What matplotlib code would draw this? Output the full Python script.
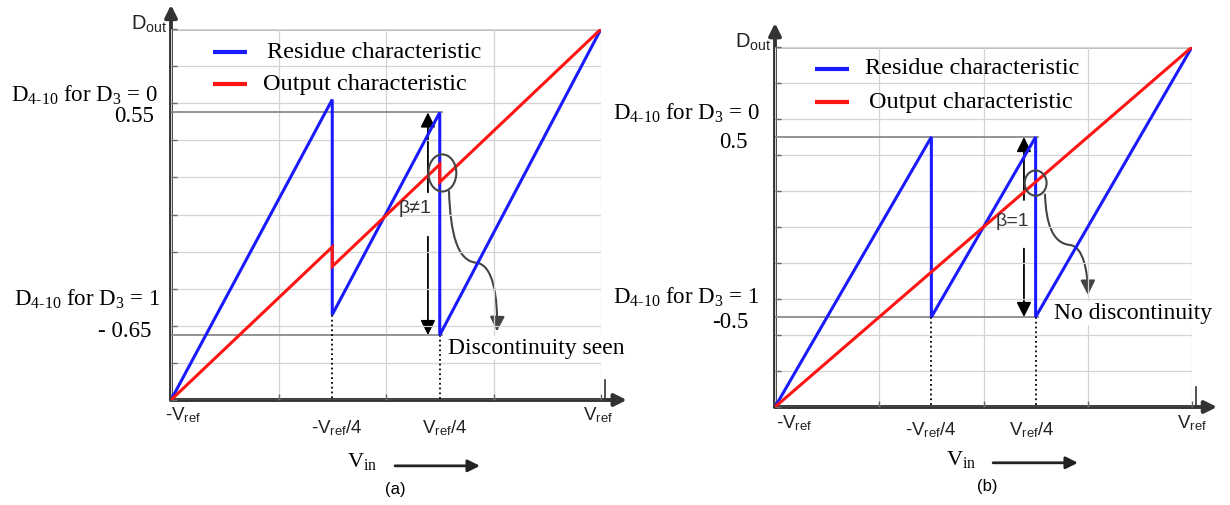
import numpy as np
import matplotlib
matplotlib.use("Agg")
import matplotlib.pyplot as plt
from matplotlib.patches import Ellipse, FancyArrowPatch
from matplotlib.path import Path

plt.rcParams["mathtext.fontset"] = "custom"
plt.rcParams["mathtext.rm"] = "Liberation Serif"
plt.rcParams["mathtext.it"] = "Liberation Serif:italic"
plt.rcParams["mathtext.bf"] = "Liberation Serif:bold"

# ---- data ---------------------------------------------------------------
vin = [-1.0, -0.25, -0.25, 0.25, 0.25, 1.0]           # -Vref .. Vref
residue_a = [-1.0, 0.62, -0.54, 0.55, -0.65, 1.0]      # beta != 1
output_a = [-1.0, -0.175, -0.28, 0.27, 0.175, 1.0]
residue_b = [-1.0, 0.5, -0.5, 0.5, -0.5, 1.0]          # beta = 1
output_b = [-1.0, -0.25, -0.25, 0.25, 0.25, 1.0]
levels_a = [0.55, -0.65]
levels_b = [0.5, -0.5]
level_labels_a = ["0.55", "- 0.65"]
level_labels_b = ["0.5", "-0.5"]
code_labels = [r"D$_{\text{4-10}}$ for D$_{\text{3}}$ = 0",
               r"D$_{\text{4-10}}$ for D$_{\text{3}}$ = 1"]
xtick_labels = [r"-V$_{\mathregular{ref}}$", r"-V$_{\mathregular{ref}}$/4",
                r"V$_{\mathregular{ref}}$/4", r"V$_{\mathregular{ref}}$"]
legend_labels = ["Residue characteristic", "Output characteristic"]

BLUE = "#1a1aff"
RED = "#ff1414"
AXC = "#333333"
SERIF = "Liberation Serif"
SANS = "Liberation Sans"

fig = plt.figure(figsize=(12.3, 5.05), dpi=100)


def px_axes(l, t, r, b):
    return fig.add_axes([l / 1230, 1 - b / 505, (r - l) / 1230, (b - t) / 505])


def arrow(ax, p0, p1, lw=1.3, ms=14, color="black", style="-|>", path=None):
    if path is not None:
        a = FancyArrowPatch(path=path, arrowstyle=style, mutation_scale=ms,
                            lw=lw, color=color)
    else:
        a = FancyArrowPatch(p0, p1, arrowstyle=style, mutation_scale=ms,
                            lw=lw, color=color, shrinkA=0, shrinkB=0)
    a.set_clip_on(False)
    ax.add_patch(a)


def panel(ax, residue, output, levels, level_labels, L):
    ax.set_xlim(-1, 1)
    ax.set_ylim(-1, 1)
    for s in ax.spines.values():
        s.set_visible(False)
    ax.set_xticks([-1, -0.5, 0, 0.5, 1])
    ax.set_yticks(np.linspace(-1, 1, 11))
    ax.grid(True, color="#d4d4d4", lw=0.9)
    ax.tick_params(labelbottom=False, labelleft=False, direction="in",
                   length=4, width=1, color="#666666")
    ax.axhline(1, color="#a8a8a8", lw=1.8, zorder=1)

    # reference levels and dotted drops
    for lv in levels:
        ax.plot([-1, 0.26], [lv, lv], color="#8a8a8a", lw=1.3, zorder=2)
    ax.plot([vin[1], vin[1]], [residue[2], -1], ls=":", color="black", lw=1.3, zorder=2)
    ax.plot([vin[3], vin[3]], [residue[4], -1], ls=":", color="black", lw=1.3, zorder=2)

    # characteristics
    ax.plot(vin, residue, color=BLUE, lw=2.2, zorder=4, solid_joinstyle="miter")
    ax.plot(vin, output, color=RED, lw=2.2, zorder=5, solid_joinstyle="miter")

    # axes with arrows
    arrow(ax, (-1, -1), (-1, L["ytop"]), lw=2.8, ms=18, color=AXC)
    arrow(ax, (-1, -1), (L["xend"], -1), lw=2.8, ms=18, color=AXC)
    ax.plot([1.02, 1.02], [-1, -0.89], color=AXC, lw=1.2, clip_on=False)

    # legend
    for (c, ly, tx), lab in zip(L["legend"], legend_labels):
        ax.plot([L["legx"][0], L["legx"][1]], [ly, ly], color=c, lw=3,
                solid_capstyle="butt", zorder=6)
        ax.text(tx, ly, lab, family=SERIF, fontsize=17.5, va="center", ha="left")

    # beta annotation
    ax_x = L["barx"]
    arrow(ax, (ax_x, L["up_from"]), (ax_x, levels[0]), lw=1.3, ms=22)
    arrow(ax, (ax_x, L["down_from"]), (ax_x, levels[1]), lw=1.3, ms=22)
    ax.text(L["beta"][0], L["beta"][1], L["beta_txt"], family=SANS,
            fontsize=14, ha="center", va="center", color="#333333", zorder=7)

    ax.add_patch(Ellipse(L["ell"][:2], L["ell"][2], L["ell"][3], fill=False,
                         ec="#444444", lw=1.5, zorder=7))
    arrow(ax, None, None, lw=1.5, ms=22, color="#444444",
          path=Path(L["curve"], [Path.MOVETO] + [Path.CURVE4] * 6))
    ax.text(L["note"][0], L["note"][1], L["note_txt"], family=SERIF,
            fontsize=17, ha="left", va="center", zorder=8,
            bbox=dict(fc="white", ec="none", pad=1))

    # y-side labels
    for (x, y), t in zip(L["code_pos"], code_labels):
        ax.text(x, y, t, family=SERIF, fontsize=16.5, ha="right", va="center")
    for (x, y), t in zip(L["lvl_pos"], level_labels):
        ax.text(x, y, t, family=SERIF, fontsize=16.5, ha="right", va="center")
    ax.text(L["dout"][0], L["dout"][1], r"D$_{\mathregular{out}}$", family=SANS,
            fontsize=14.5, ha="center", va="center", color="#222222")

    # x-side labels
    for (x, y, ha), t in zip(L["xt_pos"], xtick_labels):
        ax.text(x, y, t, family=SANS, fontsize=13.5, ha=ha, va="center",
                color="#222222")
    ax.text(L["vin"][0], L["vin"][1], r"V$_{\text{in}}$", family=SERIF,
            fontsize=16, ha="left", va="center")
    arrow(ax, (L["vin_arrow"][0], L["vin_arrow"][2]),
          (L["vin_arrow"][1], L["vin_arrow"][2]), lw=2, ms=18, color="#222222")
    ax.text(L["cap"][0], L["cap"][1], L["cap_txt"], family=SANS, fontsize=12,
            ha="center", va="center")


layout_a = dict(
    ytop=1.13, xend=1.12,
    legx=(-0.805, -0.647),
    legend=[(BLUE, 0.876, -0.553), (RED, 0.703, -0.572)],
    barx=0.195, up_from=0.12, down_from=-0.12,
    beta=(0.135, 0.035), beta_txt="β≠1",
    ell=(0.262, 0.224, 0.13, 0.2),
    curve=[(0.293, 0.125), (0.30, -0.10), (0.33, -0.25), (0.42, -0.26),
           (0.50, -0.27), (0.52, -0.45), (0.516, -0.63)],
    note=(0.29, -0.72), note_txt="Discontinuity seen",
    code_pos=[(-1.06, 0.644), (-1.05, -0.456)],
    lvl_pos=[(-1.079, 0.53), (-1.093, -0.633)],
    dout=(-1.10, 1.03),
    xt_pos=[(-1.03, -1.08, "left"), (-0.23, -1.15, "center"),
            (0.274, -1.15, "center"), (0.986, -1.08, "center")],
    vin=(-0.18, -1.33), vin_arrow=(0.042, 0.437, -1.355),
    cap=(0.042, -1.48), cap_txt="(a)",
)

layout_b = dict(
    ytop=1.133, xend=1.12,
    legx=(-0.808, -0.645),
    legend=[(BLUE, 0.878, -0.568), (RED, 0.694, -0.549)],
    barx=0.194, up_from=0.15, down_from=-0.12,
    beta=(0.14, 0.03), beta_txt="β=1",
    ell=(0.25, 0.244, 0.105, 0.14),
    curve=[(0.295, 0.18), (0.30, 0.02), (0.33, -0.09), (0.415, -0.10),
           (0.48, -0.11), (0.50, -0.25), (0.501, -0.378)],
    note=(0.34, -0.48), note_txt="No discontinuity",
    code_pos=[(-1.072, 0.633), (-1.077, -0.389)],
    lvl_pos=[(-1.13, 0.467), (-1.13, -0.528)],
    dout=(-1.106, 1.028),
    xt_pos=[(-0.995, -1.09, "left"), (-0.25, -1.13, "center"),
            (0.233, -1.13, "center"), (1.0, -1.09, "center")],
    vin=(-0.18, -1.29), vin_arrow=(0.046, 0.453, -1.31),
    cap=(0.017, -1.44), cap_txt="(b)",
)

ax_a = px_axes(171, 29, 601, 400)
ax_b = px_axes(775, 47, 1192, 407)
panel(ax_a, residue_a, output_a, levels_a, level_labels_a, layout_a)
panel(ax_b, residue_b, output_b, levels_b, level_labels_b, layout_b)

fig.savefig("out.png", dpi=100, facecolor="white")
